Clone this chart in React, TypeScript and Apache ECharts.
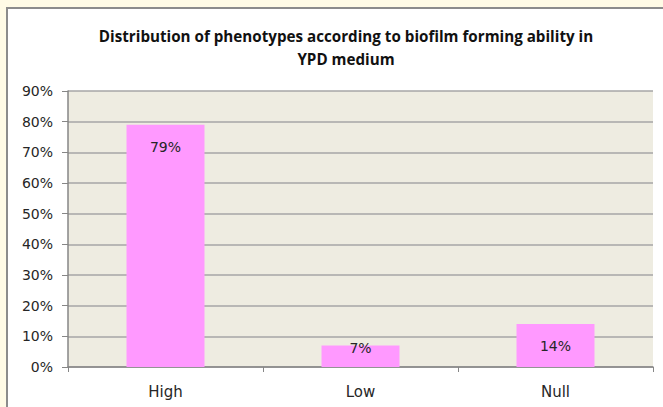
import React, { useEffect, useRef } from "react";
import * as echarts from "echarts";

const categories = ["High", "Low", "Null"];
const values = [79, 7, 14];
const titleLines = [
  "Distribution of phenotypes according to biofilm forming ability in",
  "YPD medium",
];

export default function App() {
  const ref = useRef<HTMLDivElement>(null);
  useEffect(() => {
    const chart = echarts.init(ref.current!, null, { renderer: "svg" });
    const labelFont = { fontFamily: "DejaVu Sans", fontSize: 14, color: "#262626" };
    chart.setOption({
      animation: false,
      backgroundColor: "#FFFBE6",
      graphic: [
        {
          type: "rect",
          z: -10,
          shape: { x: 7, y: 8, width: 720, height: 500 },
          style: { fill: "#ffffff", stroke: "#8c8c8c", lineWidth: 2 },
        },
      ],
      title: {
        text: titleLines.join("\n"),
        left: 341,
        textAlign: "center",
        top: 19,
        textStyle: {
          fontFamily: "Open Sans",
          fontWeight: "bold",
          fontSize: 15.2,
          lineHeight: 23,
          color: "#111111",
        },
      },
      grid: { left: 68, right: 10, top: 91, bottom: 40, backgroundColor: "#EEECE1", show: true, borderWidth: 0 },
      xAxis: {
        type: "category",
        data: categories,
        axisLine: { lineStyle: { color: "#868686", width: 1.5 } },
        axisTick: { show: true, length: 5, lineStyle: { color: "#868686" } },
        axisLabel: { ...labelFont, fontSize: 15, margin: 17 },
      },
      yAxis: {
        type: "value",
        min: 0,
        max: 90,
        interval: 10,
        axisLine: { show: true, lineStyle: { color: "#868686", width: 1.5 } },
        axisTick: { show: true, length: 6, lineStyle: { color: "#868686" } },
        axisLabel: { ...labelFont, formatter: "{value}%", margin: 15 },
        splitLine: { lineStyle: { color: "#a6a6a6", width: 1.5 } },
      },
      series: [
        {
          type: "bar",
          data: values.map((v) =>
            v < 10
              ? { value: v, label: { distance: -5 } }
              : { value: v }
          ),
          barWidth: "40%",
          itemStyle: { color: "#FF99FF" },
          label: {
            show: true,
            position: "insideTop",
            distance: 15,
            formatter: "{c}%",
            ...labelFont,
          },
        },
      ],
    });
    return () => chart.dispose();
  }, []);
  return (
    <div
      ref={ref}
      style={{ position: "fixed", left: 0, top: 0, width: 663, height: 407 }}
    />
  );
}
